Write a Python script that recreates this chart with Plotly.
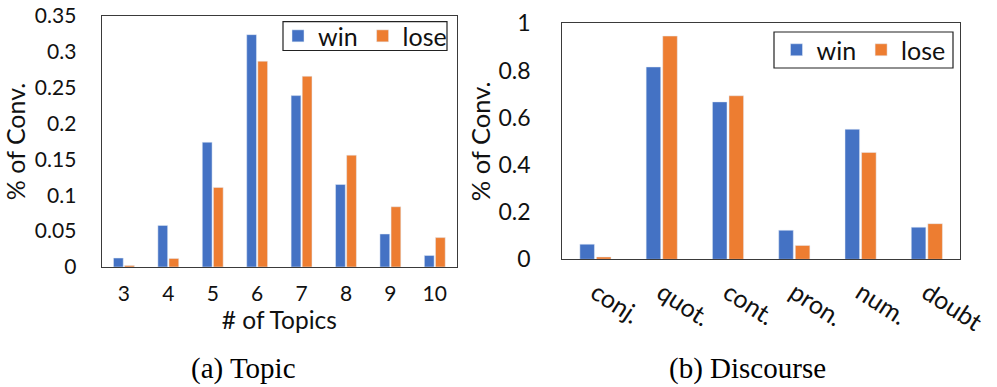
import plotly.graph_objects as go

# Panel (a): share of conversations by number of topics
topic_counts = ["3", "4", "5", "6", "7", "8", "9", "10"]
topic_win = [0.0125, 0.058, 0.174, 0.324, 0.239, 0.115, 0.046, 0.016]
topic_lose = [0.002, 0.012, 0.111, 0.287, 0.266, 0.156, 0.084, 0.041]
topic_yticks = [0, 0.05, 0.1, 0.15, 0.2, 0.25, 0.3, 0.35]
topic_yticktext = ["0", "0.05", "0.1", "0.15", "0.2", "0.25", "0.3", "0.35"]

# Panel (b): share of conversations by discourse marker type
discourse_types = ["conj.", "quot.", "cont.", "pron.", "num.", "doubt"]
discourse_win = [0.064, 0.815, 0.667, 0.123, 0.551, 0.136]
discourse_lose = [0.010, 0.946, 0.693, 0.059, 0.453, 0.151]
discourse_yticks = [0, 0.2, 0.4, 0.6, 0.8, 1.0]
discourse_yticktext = ["0", "0.2", "0.4", "0.6", "0.8", "1"]

BLUE = "#4472C4"
ORANGE = "#ED7D31"
FONT = "Lato"
TXT = "#111111"
FRAME = "#3a3a3a"

fig = go.Figure()

fig.add_trace(go.Bar(x=topic_counts, y=topic_win, name="win", marker_color=BLUE,
                     xaxis="x", yaxis="y", legend="legend"))
fig.add_trace(go.Bar(x=topic_counts, y=topic_lose, name="lose", marker_color=ORANGE,
                     xaxis="x", yaxis="y", legend="legend"))
fig.add_trace(go.Bar(x=discourse_types, y=discourse_win, name="win", marker_color=BLUE,
                     xaxis="x2", yaxis="y2", legend="legend2"))
fig.add_trace(go.Bar(x=discourse_types, y=discourse_lose, name="lose", marker_color=ORANGE,
                     xaxis="x2", yaxis="y2", legend="legend2"))

W, H = 997, 387

def px_x(v):
    return v / W

def px_y(v):
    return 1 - v / H

axis_common = dict(showgrid=False, zeroline=False, showline=True, mirror=True,
                   linecolor=FRAME, linewidth=1.3, ticks="", automargin=False)

legend_common = dict(orientation="h", bgcolor="rgba(0,0,0,0)", borderwidth=0,
                     font=dict(family=FONT, size=25, color=TXT),
                     xanchor="center", yanchor="middle", itemclick=False,
                     tracegroupgap=0)

# legend frames (left, top, right, bottom in pixels)
legend_boxes = [(283, 21.7, 447, 50.5), (774, 32, 953, 68)]

fig.update_layout(
    width=W, height=H,
    margin=dict(l=0, r=0, t=0, b=0, autoexpand=False),
    paper_bgcolor="white", plot_bgcolor="white",
    barmode="group", bargap=0.5, bargroupgap=0.12,
    font=dict(family=FONT, color=TXT),
    xaxis=dict(axis_common, domain=[px_x(101.7), px_x(457)], anchor="y",
               type="category", ticklabelstandoff=8,
               tickfont=dict(family=FONT, size=21, color=TXT),
               title=dict(text="# of Topics", standoff=0,
                          font=dict(family=FONT, size=24.5, color=TXT))),
    yaxis=dict(axis_common, domain=[px_y(267), px_y(16)], anchor="x",
               range=[0, 0.35], tickvals=topic_yticks, ticktext=topic_yticktext,
               ticklabelstandoff=20,
               tickfont=dict(family=FONT, size=21, color=TXT),
               title=dict(text="% of Conv.", standoff=2,
                          font=dict(family=FONT, size=25, color=TXT))),
    xaxis2=dict(axis_common, domain=[px_x(562.3), px_x(960)], anchor="y2",
                type="category", tickangle=33, ticklabelstandoff=8,
                tickfont=dict(family=FONT, size=25, color=TXT)),
    yaxis2=dict(axis_common, domain=[px_y(259.3), px_y(23.3)], anchor="x2",
                range=[0, 1], tickvals=discourse_yticks, ticktext=discourse_yticktext,
                ticklabelstandoff=26,
                tickfont=dict(family=FONT, size=23, color=TXT),
                title=dict(text="% of Conv.", standoff=0,
                           font=dict(family=FONT, size=25.5, color=TXT))),
    legend=dict(legend_common,
                x=px_x((legend_boxes[0][0] + legend_boxes[0][2]) / 2),
                y=px_y((legend_boxes[0][1] + legend_boxes[0][3]) / 2)),
    legend2=dict(legend_common,
                 x=px_x((legend_boxes[1][0] + legend_boxes[1][2]) / 2),
                 y=px_y((legend_boxes[1][1] + legend_boxes[1][3]) / 2)),
    showlegend=True,
)

for x0, y0, x1, y1 in legend_boxes:
    fig.add_shape(type="rect", xref="paper", yref="paper",
                  x0=px_x(x0), x1=px_x(x1), y0=px_y(y1), y1=px_y(y0),
                  line=dict(color="#222222", width=1.2), fillcolor="rgba(0,0,0,0)",
                  layer="above")

# Sub-figure captions
for text, cx in [("(a) Topic", 243), ("(b) Discourse", 747)]:
    fig.add_annotation(text=text, x=px_x(cx), y=px_y(368), xref="paper", yref="paper",
                       xanchor="center", yanchor="middle", showarrow=False,
                       font=dict(family="Liberation Serif", size=29, color="#000000"))

fig.write_html("out.html")
